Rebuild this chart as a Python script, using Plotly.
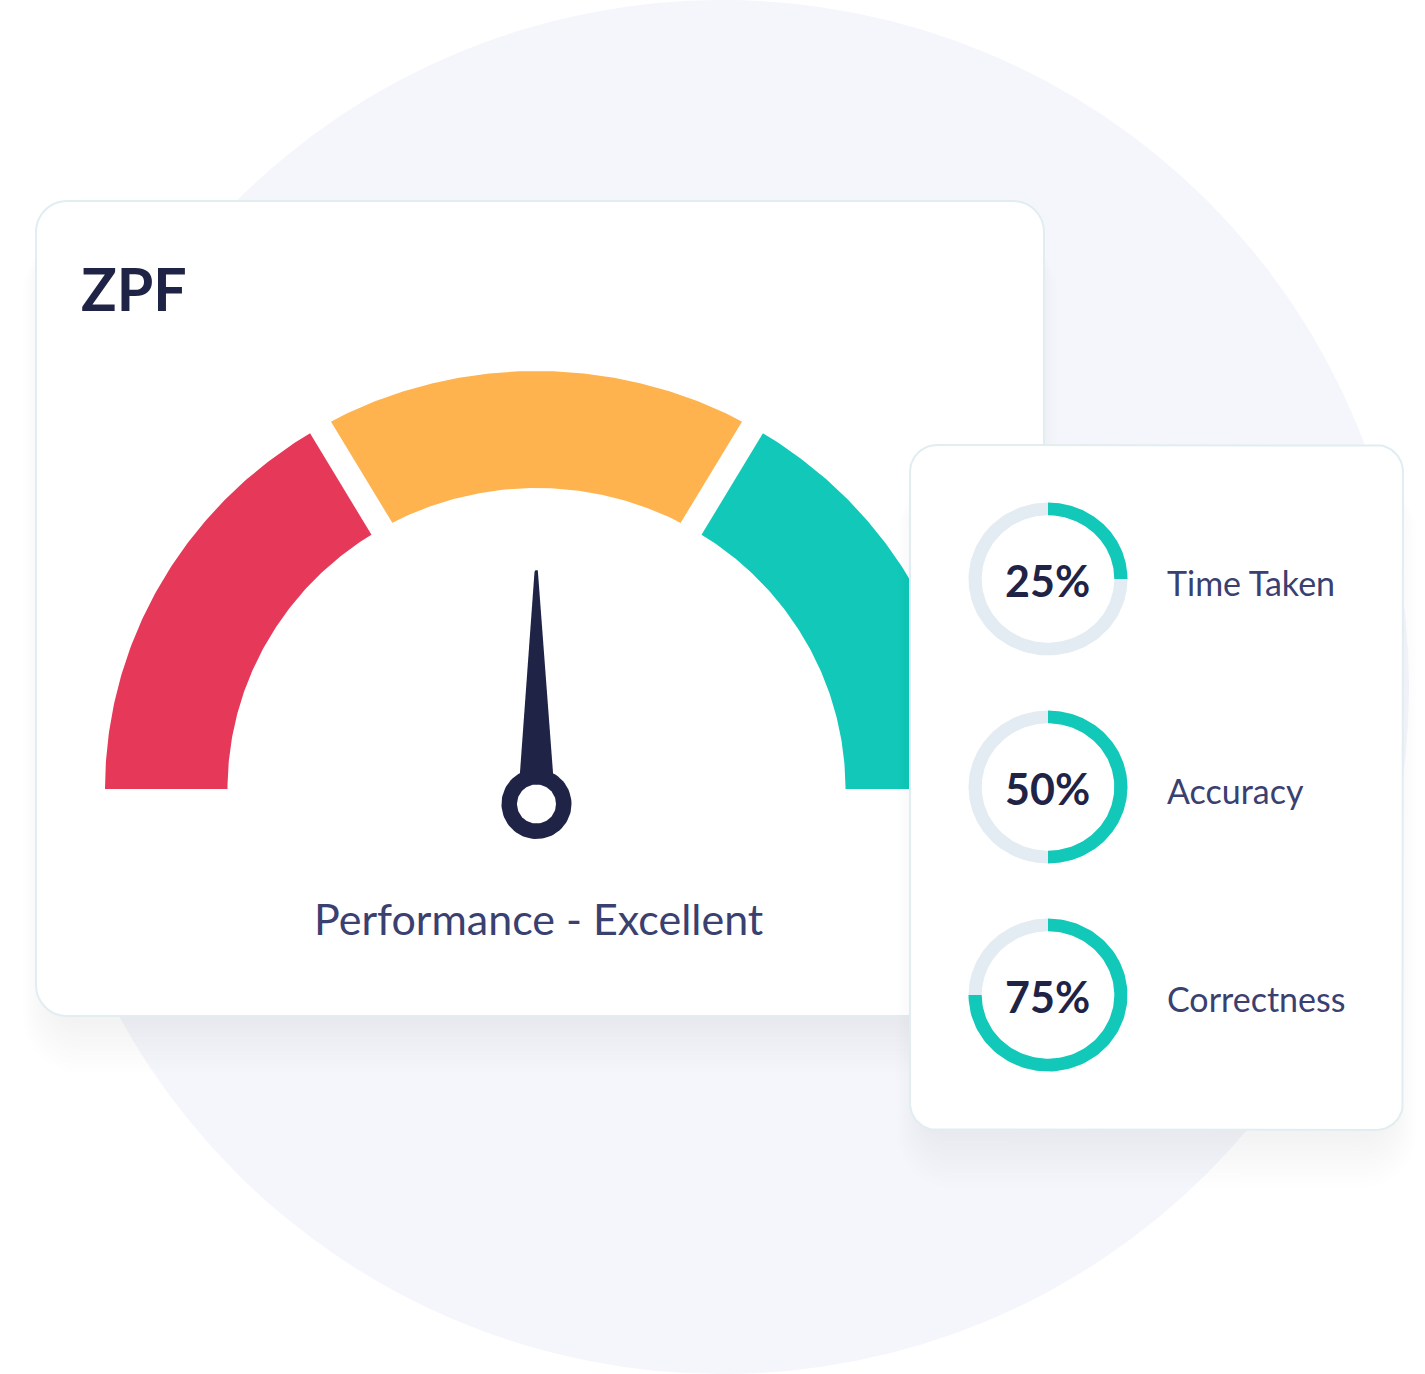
import numpy as np
import plotly.graph_objects as go

# ---------------- data ----------------
TITLE = "ZPF"
GAUGE_BOUNDS = [0, 33.3, 66.7, 100]          # gauge band limits (0-100 scale)
GAUGE_COLORS = ["#e63859", "#feb34f", "#12c9b9"]
NEEDLE_VALUE = 50
GAUGE_LABEL = "Performance - Excellent"

METRIC_NAMES = ["Time Taken", "Accuracy", "Correctness"]
METRIC_VALUES = [25, 50, 75]
METRIC_TEXT = ["25%", "50%", "75%"]

# ---------------- style / layout constants ----------------
W, H = 1425, 1374
DARK = "#1f2345"
LABEL = "#3a4070"
TEAL = "#12c9b9"
TRACK = "#e3ebf3"
BORDER = "#e2edf1"
FONT = "Lato"

CX, CY = 536.5, 789.0          # gauge centre
RO = (431.5, 418.0)            # outer radii (x, y)
RI = (309.0, 301.0)            # inner radii
HUB = (536.5, 804.0)
DONUT_X = 1048.0
DONUT_Y = [579.0, 787.0, 995.0]
DRO = (79.5, 76.5)
DRI = (66.3, 63.7)


def rrect(x0, y0, x1, y1, r, n=16):
    xs, ys = [], []
    for cx, cy, a0 in [(x0 + r, y0 + r, 180), (x1 - r, y0 + r, 270),
                       (x1 - r, y1 - r, 0), (x0 + r, y1 - r, 90)]:
        t = np.radians(np.linspace(a0, a0 + 90, n))
        xs += list(cx + r * np.cos(t))
        ys += list(cy + r * np.sin(t))
    xs.append(xs[0]); ys.append(ys[0])
    return xs, ys


def rrect_path(x0, y0, x1, y1, r):
    xs, ys = rrect(x0, y0, x1, y1, r)
    return "M " + " L ".join(f"{a:.2f},{b:.2f}" for a, b in zip(xs, ys)) + " Z"


def band(cx, cy, ro, ri, t0, t1, n=120):
    t = np.radians(np.linspace(t0, t1, n))
    xo = cx + ro[0] * np.cos(t); yo = cy - ro[1] * np.sin(t)
    xi = cx + ri[0] * np.cos(t[::-1]); yi = cy - ri[1] * np.sin(t[::-1])
    xs = np.concatenate([xo, xi, xo[:1]]); ys = np.concatenate([yo, yi, yo[:1]])
    return xs, ys


def val2ang(v):
    return 180 - v * 1.8


def shadow_rects(c):
    out = []
    for i in range(12):
        e = 2.5 * i
        out.append((c[0] - e + 14, c[1] - e + 40 + i * 2, c[2] + e - 14, c[3] + e + 8 + i * 2, c[4] + e))
    return out


SH_COL = "rgba(35,40,90,0.0055)"

fig = go.Figure()


def poly(xs, ys, color):
    fig.add_trace(go.Scatter(x=list(xs), y=list(ys), mode="lines", fill="toself",
                             fillcolor=color, line=dict(width=0, color=color),
                             hoverinfo="skip", showlegend=False))


shapes = []
# background circle
shapes.append(dict(type="circle", xref="x", yref="y", x0=722 - 687, y0=0, x1=722 + 687, y1=1374,
                   fillcolor="#f4f6fb", line=dict(width=0), layer="below"))
# card 1 shadow
C1 = (36, 201, 1044, 1016, 31)
for r in shadow_rects(C1):
    shapes.append(dict(type="path", path=rrect_path(*r), fillcolor=SH_COL,
                       line=dict(width=0), layer="below"))
shapes.append(dict(type="path", path=rrect_path(*C1), fillcolor="white",
                   line=dict(width=2, color=BORDER), layer="below"))

# gauge bands
for k in range(3):
    xs, ys = band(CX, CY, RO, RI, val2ang(GAUGE_BOUNDS[k]), val2ang(GAUGE_BOUNDS[k + 1]))
    poly(xs, ys, GAUGE_COLORS[k])

# gaps between bands
for b in GAUGE_BOUNDS[1:-1]:
    t = np.radians(val2ang(b))
    xin, yin = CX + RI[0] * np.cos(t), CY - RI[1] * np.sin(t)
    xout, yout = CX + RO[0] * np.cos(t), CY - RO[1] * np.sin(t)
    dx, dy = xout - xin, yout - yin
    L = np.hypot(dx, dy); ux, uy = dx / L, dy / L
    fig.add_trace(go.Scatter(x=[xin - 15 * ux, xout + 15 * ux], y=[yin - 15 * uy, yout + 15 * uy],
                             mode="lines", line=dict(color="white", width=24),
                             hoverinfo="skip", showlegend=False))

# needle
ang = np.radians(val2ang(NEEDLE_VALUE))
ux, uy = np.cos(ang), -np.sin(ang)       # direction (screen y down)
px, py = -uy, ux                          # perpendicular
L_tip, L_base = 232, 18
hw_base, hw_tip = 17.5, 2.0
cap = np.radians(np.linspace(0, 180, 12))
nx = [HUB[0] + ux * L_base + px * hw_base]
ny = [HUB[1] + uy * L_base + py * hw_base]
tipc = (HUB[0] + ux * L_tip, HUB[1] + uy * L_tip)
for c in cap:
    nx.append(tipc[0] + px * hw_tip * np.cos(c) + ux * hw_tip * np.sin(c))
    ny.append(tipc[1] + py * hw_tip * np.cos(c) + uy * hw_tip * np.sin(c))
nx += [HUB[0] + ux * L_base - px * hw_base, nx[0]]
ny += [HUB[1] + uy * L_base - py * hw_base, ny[0]]
poly(nx, ny, DARK)
t = np.radians(np.linspace(0, 360, 90))
poly(HUB[0] + 35 * np.cos(t), HUB[1] + 35 * np.sin(t), DARK)
poly(HUB[0] + 19.5 * np.cos(t), HUB[1] + 19.5 * np.sin(t), "white")

# card 2 shadow + card
C2 = (910, 445, 1403, 1130, 27)
for r in shadow_rects(C2):
    xs, ys = rrect(*r)
    poly(xs, ys, SH_COL)
xs, ys = rrect(*C2)
fig.add_trace(go.Scatter(x=xs, y=ys, mode="lines", fill="toself", fillcolor="white",
                         line=dict(width=2, color=BORDER), hoverinfo="skip", showlegend=False))

# donuts
for v, cy in zip(METRIC_VALUES, DONUT_Y):
    end = 90 - v * 3.6
    xs, ys = band(DONUT_X, cy, DRO, DRI, end, -270)
    poly(xs, ys, TRACK)
    xs, ys = band(DONUT_X, cy, DRO, DRI, 90, end)
    poly(xs, ys, TEAL)

ann = []
ann.append(dict(x=79, y=288, text=f"<b>{TITLE}</b>", xanchor="left", yanchor="middle",
                showarrow=False, font=dict(family=FONT, size=59, color=DARK)))
ann.append(dict(x=538.5, y=918, text=GAUGE_LABEL, xanchor="center", yanchor="middle",
                showarrow=False, font=dict(family=FONT, size=43, color=LABEL)))
for name, txt, cy in zip(METRIC_NAMES, METRIC_TEXT, DONUT_Y):
    ann.append(dict(x=DONUT_X - 1, y=cy + 1, text=f"<b>{txt}</b>", xanchor="center", yanchor="middle",
                    showarrow=False, font=dict(family=FONT, size=43, color=DARK)))
    ann.append(dict(x=1165, y=cy + 3, text=name, xanchor="left", yanchor="middle",
                    showarrow=False, font=dict(family=FONT, size=34, color=LABEL)))

fig.update_layout(
    width=W, height=H, margin=dict(l=0, r=0, t=0, b=0),
    paper_bgcolor="white", plot_bgcolor="white",
    xaxis=dict(range=[0, W], visible=False, fixedrange=True),
    yaxis=dict(range=[H, 0], visible=False, fixedrange=True),
    shapes=shapes, annotations=ann, showlegend=False, hovermode=False,
)
fig.write_html("out.html", config={"displayModeBar": False})
